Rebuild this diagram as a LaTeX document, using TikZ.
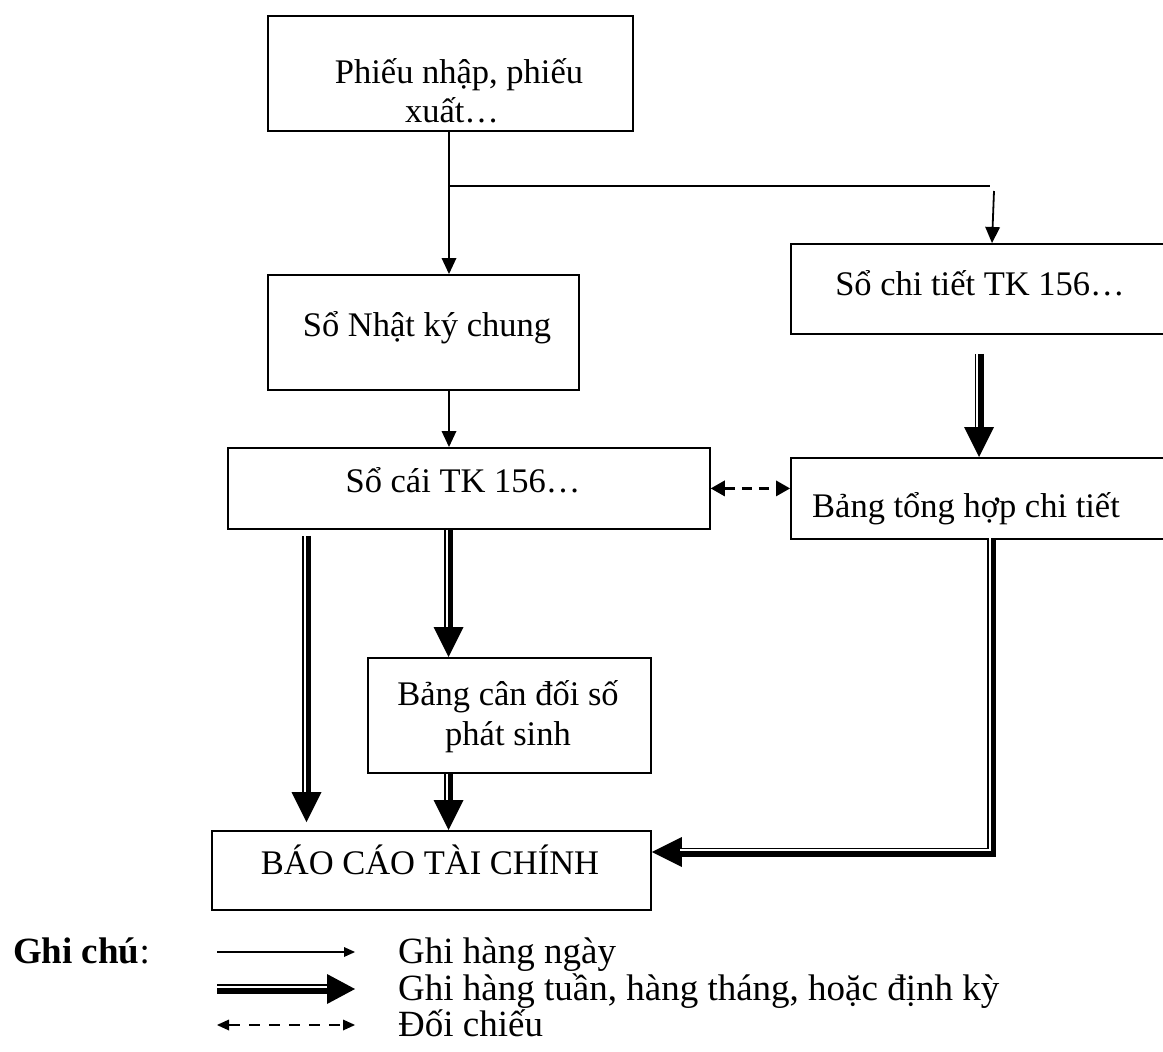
\documentclass[tikz,border=0pt]{standalone}
\usepackage{fontspec}
\setmainfont{Liberation Serif}
\usetikzlibrary{arrows.meta,calc}
\begin{document}
\begin{tikzpicture}[x=1pt,y=-1pt,
  box/.style={draw, line width=1.8pt, inner sep=0pt, anchor=north west},
  txt/.style={inner sep=0pt, anchor=base, font=\fontsize{34.5pt}{40pt}\selectfont},
  ltxt/.style={inner sep=0pt, anchor=base west, font=\fontsize{37pt}{42pt}\selectfont},
  thin/.style={line width=1.8pt, -{Triangle[length=16pt,width=15pt,line width=0pt]}},
  dbl/.style={line width=9pt, -{Triangle[length=30pt,width=30pt,line width=0pt]},
     postaction={draw=white, line width=2pt, -, shorten >=30pt, transform canvas={#1}}},
  dsh/.style={line width=3pt, dash pattern=on 10pt off 7pt,
     {Triangle[length=14pt,width=16pt,line width=0pt]}-{Triangle[length=14pt,width=16pt,line width=0pt]}}
]
\useasboundingbox (0,0) rectangle (1163,1052);

% boxes
\node[box, minimum width=365pt, minimum height=115pt] (A) at (267,15) {};
\node[box, minimum width=311pt, minimum height=115pt] (B) at (267,274) {};
\node[box, minimum width=390pt, minimum height=90pt] (E) at (790,243) {};
\node[box, minimum width=482pt, minimum height=81pt] (C) at (227,447) {};
\node[box, minimum width=390pt, minimum height=81pt] (D) at (790,457) {};
\node[box, minimum width=283pt, minimum height=115pt] (F) at (367,657) {};
\node[box, minimum width=439pt, minimum height=79pt] (G) at (211,830) {};

% texts
\node[txt] (tA1) at (459,83) {Phiếu nhập, phiếu};
\node[txt] (tA2) at (452,122) {xuất…};
\node[txt] (tB) at (427,336) {Sổ Nhật ký chung};
\node[txt] (tE) at (980,295) {Sổ chi tiết TK 156…};
\node[txt] (tC) at (463,492) {Sổ cái TK 156…};
\node[txt] (tD) at (966,517) {Bảng tổng hợp chi tiết};
\node[txt] (tF1) at (508,705) {Bảng cân đối số};
\node[txt] (tF2) at (508,745) {phát sinh};
\node[txt] (tG) at (430,874) {BÁO CÁO TÀI CHÍNH};

% helper coordinates
\coordinate (a1) at (449,0);
\coordinate (br) at (990,186);
\coordinate (bs) at (994,191);
\coordinate (e1) at (992,0);
\coordinate (e2) at (979,0);
\coordinate (d1) at (991.5,852);
\coordinate (l1) at (306.5,0);
\coordinate (m1) at (448.5,0);

% connectors
\draw[thin] (A.south -| a1) -- (B.north -| a1);
\draw[line width=1.8pt] (a1 |- br) -- (br);
\draw[thin] (bs) -- (E.north -| e1);
\draw[thin] (B.south -| a1) -- (C.north -| a1);
\draw[dbl={xshift=-2pt}] ($(E.south -| e2)+(0,19)$) -- (D.north -| e2);
\draw[dsh] (C.east) -- (C.east -| D.west);
\draw[dbl={xshift=-2pt}] ($(C.south -| l1)+(0,6)$) -- ($(G.north -| l1)+(0,-8)$);
\draw[dbl={xshift=-2pt}] (C.south -| m1) -- (F.north -| m1);
\draw[dbl={xshift=-2pt}] (F.south -| m1) -- (G.north -| m1);
\draw[dbl={xshift=-2pt,yshift=2pt}] (D.south -| d1) -- (d1) -- (G.east |- d1);

% legend
\node[inner sep=0pt, anchor=base east, font=\fontsize{37pt}{42pt}\selectfont] (gc) at (150,963) {\textbf{Ghi chú}:};
\coordinate (k1) at (217,952); \coordinate (k2) at (355,952);
\coordinate (k3) at (217,989); \coordinate (k4) at (355,989);
\coordinate (k5) at (217,1025); \coordinate (k6) at (355,1025);
\draw[line width=1.8pt, -{Triangle[length=11pt,width=10pt,line width=0pt]}] (k1) -- (k2);
\draw[line width=10pt, -{Triangle[length=28pt,width=30pt,line width=0pt]},
     postaction={draw=white, line width=2pt, -, shorten >=28pt, transform canvas={yshift=2.5pt}}] (k3) -- (k4);
\draw[line width=2.5pt, dash pattern=on 11pt off 9pt,
  {Triangle[length=12pt,width=11pt,line width=0pt]}-{Triangle[length=12pt,width=11pt,line width=0pt]}] (k5) -- (k6);
\node[ltxt] (l1t) at (398,963) {Ghi hàng ngày};
\node[ltxt] (l2t) at (398,1000) {Ghi hàng tuần, hàng tháng, hoặc định kỳ};
\node[ltxt] (l3t) at (398,1036) {Đối chiếu};
\end{tikzpicture}
\end{document}
